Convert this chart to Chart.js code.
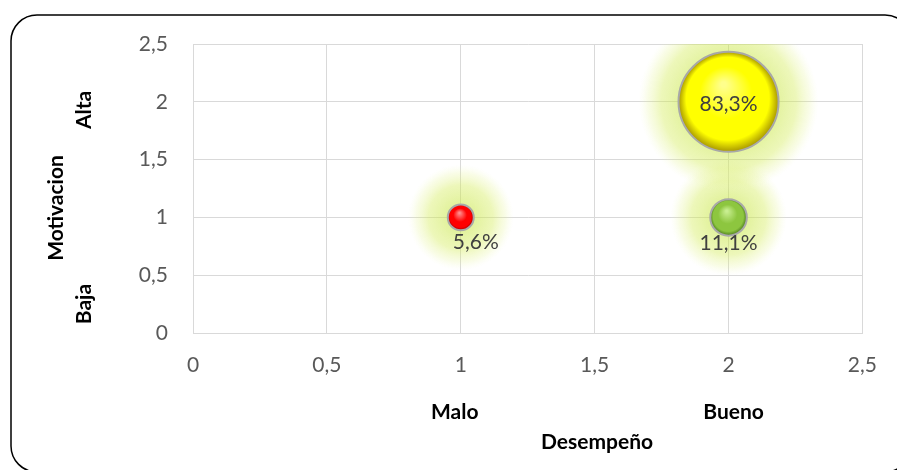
<!DOCTYPE html>
<html>
<head>
<meta charset="utf-8">
<script src="https://cdn.jsdelivr.net/npm/chart.js@4.4.0/dist/chart.umd.min.js"></script>
<style>
  html, body { margin: 0; padding: 0; background: #ffffff; }
  #wrap { position: relative; width: 897px; height: 470px; overflow: hidden; }
  canvas { display: block; }
</style>
</head>
<body>
<div id="wrap"><canvas id="grafico" width="897" height="470"></canvas></div>
<script>
// Datos: desempeño (x), motivación (y) y porcentaje de casos de cada cuadrante
const desempeno   = [1, 2, 2];
const motivacion  = [1, 1, 2];
const porcentajes = [5.6, 11.1, 83.3];
const etiquetas   = ['5,6%', '11,1%', '83,3%'];

// Etiquetas de categoría de los ejes
const categoriasX = ['Malo', 'Bueno'];
const valoresCatX = [1, 2];
const categoriasY = ['Baja', 'Alta'];
const valoresCatY = [0.25, 1.93];
const tituloX = 'Desempeño';
const tituloY = 'Motivacion';

// Escala de marcas: 0 a 2,5 cada 0,5
const ejeMin = 0, ejeMax = 2.5, ejePaso = 0.5;

// Colores de cada esfera: [brillo, base, sombra]
const tonos = [
  ['#ff8c8c', '#ff0000', '#9c0000'],
  ['#c8ee90', '#8dc63f', '#4b7a1c'],
  ['#ffff8c', '#ffff00', '#a89800']
];

const FUENTE = 'Lato, "Open Sans", sans-serif';
const escalaRadio = 5.48; // el área de la burbuja es proporcional al porcentaje

const puntos = desempeno.map((x, i) => ({
  x: x, y: motivacion[i], r: escalaRadio * Math.sqrt(porcentajes[i])
}));

function coma(v) { return String(v).replace('.', ','); }

// Relleno esférico con brillo arriba y sombra en el borde inferior
function relleno(ctx) {
  const chart = ctx.chart;
  const i = ctx.dataIndex;
  if (!chart.chartArea || i === undefined || !ctx.raw) return tonos[0][1];
  const cx = chart.scales.x.getPixelForValue(ctx.raw.x);
  const cy = chart.scales.y.getPixelForValue(ctx.raw.y);
  const r = ctx.raw.r;
  const g = chart.ctx.createRadialGradient(cx - r * 0.1, cy - r * 0.35, r * 0.05, cx, cy, r);
  const t = tonos[i];
  g.addColorStop(0, t[0]);
  g.addColorStop(0.5, t[1]);
  g.addColorStop(0.82, t[1]);
  g.addColorStop(1, t[2]);
  return g;
}

// Halo suave alrededor de cada burbuja, recortado al área del gráfico
const halo = {
  id: 'halo',
  beforeDatasetsDraw(chart) {
    const c = chart.ctx;
    const a = chart.chartArea;
    const meta = chart.getDatasetMeta(0);
    c.save();
    c.beginPath();
    c.rect(a.left, a.top, a.right - a.left, a.bottom - a.top);
    c.clip();
    meta.data.forEach(el => {
      const r = el.options.radius;
      const R = r + 40;
      const g = c.createRadialGradient(el.x, el.y, r * 0.9, el.x, el.y, R);
      g.addColorStop(0, 'rgba(200,230,70,0.55)');
      g.addColorStop(0.5, 'rgba(212,236,90,0.42)');
      g.addColorStop(0.8, 'rgba(226,242,135,0.2)');
      g.addColorStop(1, 'rgba(240,250,190,0)');
      c.fillStyle = g;
      c.beginPath();
      c.arc(el.x, el.y, R, 0, Math.PI * 2);
      c.fill();
    });
    c.restore();
  }
};

// Rótulos de porcentaje junto a cada burbuja
const desplazamientos = [[15, 25], [0, 26], [0, 2]];
const rotulos = {
  id: 'rotulos',
  afterDatasetsDraw(chart) {
    const c = chart.ctx;
    const meta = chart.getDatasetMeta(0);
    c.save();
    c.font = '21px ' + FUENTE;
    c.fillStyle = '#404040';
    c.textAlign = 'center';
    c.textBaseline = 'middle';
    meta.data.forEach((el, i) => {
      const d = desplazamientos[i];
      c.fillText(etiquetas[i], el.x + d[0], el.y + d[1]);
    });
    c.restore();
  }
};

// Categorías, títulos y marco redondeado
const corrimientoCatX = [-6, 5];
const textos = {
  id: 'textos',
  afterDraw(chart) {
    const c = chart.ctx;
    const sx = chart.scales.x, sy = chart.scales.y;
    c.save();
    c.fillStyle = '#000000';
    c.font = 'bold 21px ' + FUENTE;
    c.textAlign = 'center';
    c.textBaseline = 'middle';
    categoriasX.forEach((t, i) => c.fillText(t, sx.getPixelForValue(valoresCatX[i]) + corrimientoCatX[i], 412));
    c.fillText(tituloX, 597, 442);
    categoriasY.forEach((t, i) => {
      c.save();
      c.translate(84, sy.getPixelForValue(valoresCatY[i]));
      c.rotate(-Math.PI / 2);
      c.fillText(t, 0, 0);
      c.restore();
    });
    c.save();
    c.translate(56, 208);
    c.rotate(-Math.PI / 2);
    c.fillText(tituloY, 0, 0);
    c.restore();

    c.strokeStyle = '#000000';
    c.lineWidth = 1.5;
    c.beginPath();
    c.roundRect(11, 15, 900, 457, 26);
    c.stroke();
    c.restore();
  }
};

new Chart(document.getElementById('grafico'), {
  type: 'bubble',
  data: {
    datasets: [{
      data: puntos,
      backgroundColor: relleno,
      borderColor: '#a8a8a8',
      borderWidth: 2,
      hoverBorderWidth: 2,
      clip: false
    }]
  },
  options: {
    responsive: false,
    animation: false,
    events: [],
    layout: { autoPadding: false, padding: { top: 44, right: 34, left: 0, bottom: 0 } },
    plugins: { legend: { display: false }, tooltip: { enabled: false } },
    scales: {
      x: {
        type: 'linear', min: ejeMin, max: ejeMax,
        afterFit(s) { s.height = 137; },
        grid: { color: '#d9d9d9', lineWidth: 1, drawTicks: false },
        border: { color: '#d9d9d9', width: 1 },
        ticks: {
          stepSize: ejePaso, padding: 20, color: '#595959',
          font: { family: FUENTE, size: 21 },
          callback: v => coma(v)
        }
      },
      y: {
        type: 'linear', min: ejeMin, max: ejeMax,
        afterFit(s) { s.width = 193; },
        grid: { color: '#d9d9d9', lineWidth: 1, drawTicks: false },
        border: { color: '#d9d9d9', width: 1 },
        ticks: {
          stepSize: ejePaso, padding: 25, color: '#595959',
          font: { family: FUENTE, size: 21 },
          callback: v => coma(v)
        }
      }
    }
  },
  plugins: [halo, rotulos, textos]
});
</script>
</body>
</html>
